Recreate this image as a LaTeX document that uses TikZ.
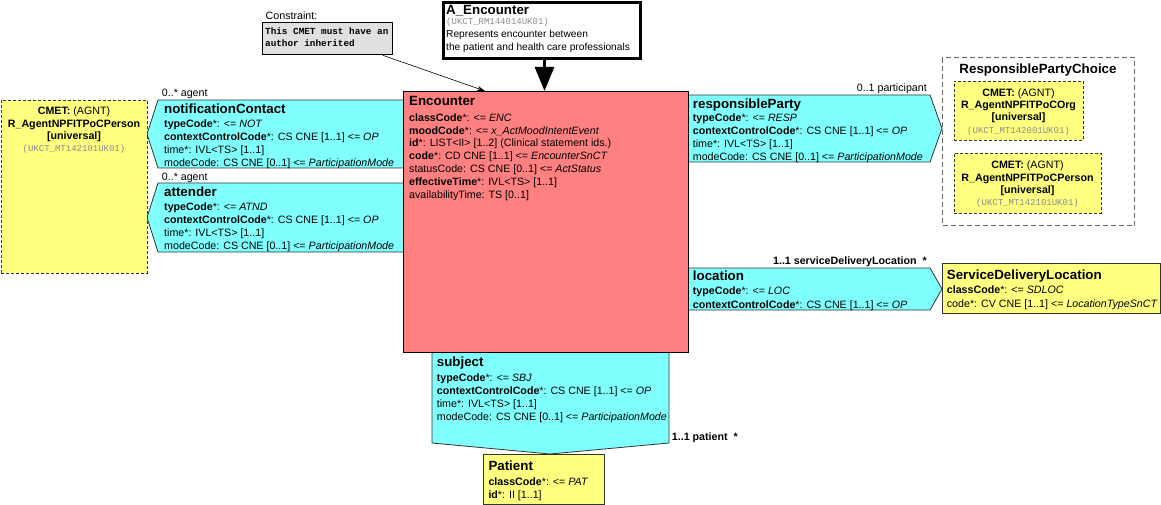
\documentclass[tikz,border=0pt]{standalone}
\usepackage{fontspec}
\setmainfont{Liberation Sans}
\setmonofont{Liberation Mono}
\usetikzlibrary{arrows.meta,calc}
\definecolor{cyanf}{HTML}{80FFFF}
\definecolor{pinkf}{HTML}{FF8080}
\definecolor{yellowf}{HTML}{FFFF80}
\definecolor{greyf}{HTML}{E0E0E0}
\definecolor{idgrey}{HTML}{8C8C8C}
\definecolor{edgec}{HTML}{333333}
\definecolor{choicec}{HTML}{666666}

\newcommand\tfont{\fontsize{13.33}{15}\selectfont\bfseries}
\newcommand\afont{\fontsize{10.67}{12.8}\selectfont}
\newcommand\idf{\fontsize{9}{10}\selectfont\ttfamily\color{idgrey}}
\newcommand\mylines[2][12.8]{{\fontsize{10.67}{#1}\selectfont\begin{tabular}[t]{@{}l@{}}#2\end{tabular}}}
\newcommand\myclines[2][12.4]{{\fontsize{10.67}{#1}\selectfont\begin{tabular}[t]{@{}c@{}}#2\end{tabular}}}

\tikzset{
 ttl/.style={anchor=base west, inner sep=0pt, font=\tfont},
 attr/.style={anchor=base west, inner sep=0pt, font=\afont},
 cmettxt/.style={anchor=base, inner sep=0pt, font=\afont},
 lbl/.style={inner sep=0pt, font=\afont},
 blbl/.style={inner sep=0pt, font=\afont\bfseries},
 actrel/.style={draw=edgec, fill=cyanf, line width=0.8pt, line join=miter},
 cmetbox/.style={draw=edgec, fill=yellowf, dash pattern=on 3pt off 2pt, line width=0.8pt, anchor=north west, inner sep=0pt},
 classbox/.style={draw=edgec, fill=yellowf, line width=0.8pt, anchor=north west, inner sep=0pt},
}

\begin{document}
\begin{tikzpicture}[x=1pt,y=-1pt]
\useasboundingbox (0,0) rectangle (1161,505);

% ---------- act relationship shapes (behind Encounter) ----------
\path[actrel] (410,100) -- (158,100) -- (147,134) -- (158,168) -- (410,168);
\path[actrel] (410,183) -- (158,183) -- (147,217.5) -- (158,252) -- (410,252);
\path[actrel] (680,95) -- (930,95) -- (942,128.5) -- (930,162) -- (680,162);
\path[actrel] (680,268) -- (930,268) -- (942,289) -- (930,310) -- (680,310);
\path[actrel] (432,345) -- (432,443) -- (550,454) -- (669,443) -- (669,345);

% ---------- Encounter ----------
\node[draw=black, fill=pinkf, line width=0.8pt, minimum width=285pt, minimum height=261pt,
      anchor=north west, inner sep=0pt] (enc) at (403,91) {};
\node[ttl] (encT) at (409,105.5) {Encounter};
\node[attr] (encA) at (409,121.3) {\mylines{\textbf{classCode}*: <= \textit{ENC}\\
 \textbf{moodCode}*: <= \textit{x\_ActMoodIntentEvent}\\
 \textbf{id}*: LIST<II> [1..2] (Clinical statement ids.)\\
 \textbf{code}*: CD CNE [1..1] <= \textit{EncounterSnCT}\\
 statusCode: CS CNE [0..1] <= \textit{ActStatus}\\
 \textbf{effectiveTime}*: IVL<TS> [1..1]\\
 availabilityTime: TS [0..1]}};

% ---------- notificationContact ----------
\node[ttl] (ncT) at (164,114) {notificationContact};
\node[attr] (ncA) at (164,128) {\mylines{\textbf{typeCode}*: <= \textit{NOT}\\
 \textbf{contextControlCode}*: CS CNE [1..1] <= \textit{OP}\\
 time*: IVL<TS> [1..1]\\
 modeCode: CS CNE [0..1] <= \textit{ParticipationMode}}};
\node[lbl, anchor=base west] (ncL) at (161.7,97) {0..* agent};

% ---------- attender ----------
\node[ttl] (atT) at (164,196.5) {attender};
\node[attr] (atA) at (164,210.7) {\mylines{\textbf{typeCode}*: <= \textit{ATND}\\
 \textbf{contextControlCode}*: CS CNE [1..1] <= \textit{OP}\\
 time*: IVL<TS> [1..1]\\
 modeCode: CS CNE [0..1] <= \textit{ParticipationMode}}};
\node[lbl, anchor=base west] (atL) at (161.7,180.5) {0..* agent};

% ---------- left CMET ----------
\node[cmetbox, minimum width=146pt, minimum height=173pt] (cmetL) at (1,100) {};
\node[cmettxt] (cmetLt) at (74,114.8) {\myclines{\textbf{CMET:} (AGNT)\\
 \textbf{R\_AgentNPFITPoCPerson}\\ \relax\textbf{[universal]}\\ {\idf (UKCT\_MT142101UK01)}}};

% ---------- responsibleParty ----------
\node[ttl] (rpT) at (692.7,108.3) {responsibleParty};
\node[attr] (rpA) at (692.7,121.7) {\mylines[13]{\textbf{typeCode}*: <= \textit{RESP}\\
 \textbf{contextControlCode}*: CS CNE [1..1] <= \textit{OP}\\
 time*: IVL<TS> [1..1]\\
 modeCode: CS CNE [0..1] <= \textit{ParticipationMode}}};
\node[lbl, anchor=base east] (rpL) at (927,92) {0..1 participant};

% ---------- ResponsiblePartyChoice ----------
\node[draw=choicec, dash pattern=on 5pt off 3pt, line width=1.4pt, minimum width=192pt,
      minimum height=168pt, anchor=north west, inner sep=0pt] (rpc) at (942,57) {};
\node[anchor=base, inner sep=0pt, font=\tfont] (rpcT) at (1038,74) {ResponsiblePartyChoice};
\node[cmetbox, minimum width=129pt, minimum height=59pt] (cmetO) at (954,81) {};
\node[cmettxt] (cmetOt) at (1018.5,96.5) {\myclines[12.2]{\textbf{CMET:} (AGNT)\\
 \textbf{R\_AgentNPFITPoCOrg}\\ \relax\textbf{[universal]}\\ {\idf (UKCT\_MT142001UK01)}}};
\node[cmetbox, minimum width=147pt, minimum height=60pt] (cmetP) at (954,153) {};
\node[cmettxt] (cmetPt) at (1027.5,169) {\myclines[12.2]{\textbf{CMET:} (AGNT)\\
 \textbf{R\_AgentNPFITPoCPerson}\\ \relax\textbf{[universal]}\\ {\idf (UKCT\_MT142101UK01)}}};

% ---------- location ----------
\node[ttl] (loT) at (692.7,280.5) {location};
\node[attr] (loA) at (692.7,294) {\mylines[14.3]{\textbf{typeCode}*: <= \textit{LOC}\\
 \textbf{contextControlCode}*: CS CNE [1..1] <= \textit{OP}}};
\node[blbl, anchor=base east] (loL) at (927,264.5) {1..1 serviceDeliveryLocation\hspace{6pt}*};

% ---------- ServiceDeliveryLocation ----------
\node[classbox, minimum width=218pt, minimum height=50pt] (sdl) at (942,263) {};
\node[ttl] (sdlT) at (946.7,279) {ServiceDeliveryLocation};
\node[attr] (sdlA) at (946.7,293.3) {\mylines[14.6]{\textbf{classCode}*: <= \textit{SDLOC}\\
 code*: CV CNE [1..1] <= \textit{LocationTypeSnCT}}};

% ---------- subject ----------
\node[ttl] (suT) at (436.7,366) {subject};
\node[attr] (suA) at (436.7,381.3) {\mylines[12.9]{\textbf{typeCode}*: <= \textit{SBJ}\\
 \textbf{contextControlCode}*: CS CNE [1..1] <= \textit{OP}\\
 time*: IVL<TS> [1..1]\\
 modeCode: CS CNE [0..1] <= \textit{ParticipationMode}}};
\node[blbl, anchor=base west] (suL) at (671.7,440.5) {1..1 patient\hspace{6pt}*};

% ---------- Patient ----------
\node[classbox, minimum width=121pt, minimum height=50pt] (pat) at (482.5,454) {};
\node[ttl] (patT) at (488.3,470) {Patient};
\node[attr] (patA) at (488.3,485.5) {\mylines[12.5]{\textbf{classCode}*: <= \textit{PAT}\\
 \textbf{id}*: II [1..1]}};

% ---------- Constraint ----------
\node[draw=black, fill=greyf, line width=0.8pt, minimum width=130pt, minimum height=32.5pt,
      anchor=north west, inner sep=0pt] (cons) at (262,22) {};
\node[anchor=base west, inner sep=0pt, font=\fontsize{9.33}{12}\selectfont\ttfamily\bfseries] (consT) at (265,35)
 {\begin{tabular}[t]{@{}l@{}}This CMET must have an\\ author inherited\end{tabular}};
\node[lbl, anchor=base west, fill=white, inner sep=1pt] (consL) at (264.5,19.5) {Constraint:};
\coordinate (cs) at ($(cons.south east)+(-10,0)$);
\coordinate (ce) at ($(enc.north west)+(82,0)$);
\draw[line width=0.6pt, -{Stealth[length=8pt,width=5pt]}] (cs) -- (ce);

% ---------- A_Encounter ----------
\node[draw=black, fill=white, line width=3pt, minimum width=197pt, minimum height=56pt,
      anchor=north west, inner sep=0pt] (aenc) at (441.5,1.5) {};
\node[ttl] (aencT) at (446,15) {A\_Encounter};
\node[anchor=base west, inner sep=0pt, font=\idf] (aencI) at (446,25) {(UKCT\_RM144014UK01)};
\node[anchor=base west, inner sep=0pt, font=\fontsize{10.2}{13}\selectfont] (aencD) at (446,38)
 {\begin{tabular}[t]{@{}l@{}}Represents encounter between\\ the patient and health care professionals\end{tabular}};
\coordinate (as) at ($(aenc.south)+(3,0)$);
\coordinate (ae) at (as |- enc.north);
\draw[line width=3pt, -{Triangle[length=24pt,width=19pt]}] (as) -- (ae);
\end{tikzpicture}
\end{document}
